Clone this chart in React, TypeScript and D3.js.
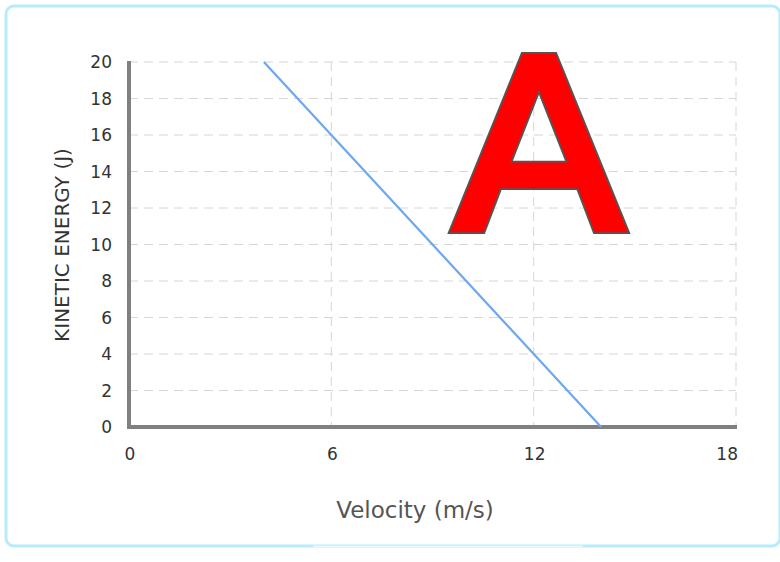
import * as d3 from 'd3';

const W = 780;
const H = 562;

// Data
const velocity = [4, 14];
const energy = [20, 0];
const xTicks = [0, 6, 12, 18];
const yTicks = [0, 2, 4, 6, 8, 10, 12, 14, 16, 18, 20];

const COLORS = {
  frame: '#b8ecfb',
  axis: '#808080',
  grid: '#d6d6d6',
  tick: '#333333',
  title: '#555555',
  line: '#6ea6f0',
  letter: '#ff0000',
  letterStroke: '#555555',
};

const FONT = 'DejaVu Sans, Verdana, sans-serif';

export default function App() {
  const x = d3.scaleLinear().domain([0, 18]).range([129, 736]);
  const y = d3.scaleLinear().domain([0, 20]).range([427, 62]);

  const pts = velocity.map((v, i) => [v, energy[i]] as [number, number]);
  const linePath = d3.line<[number, number]>()
    .x(d => x(d[0]))
    .y(d => y(d[1]))(pts) || '';

  const last = xTicks[xTicks.length - 1];
  const letterTransform = 'translate(539,228.5) scale(1.065,1)';

  return (
    <svg
      width={W}
      height={H}
      style={{ position: 'absolute', left: 0, top: 0, background: '#fff' }}
    >
      {/* frame */}
      <rect x={6} y={6} width={774} height={540} rx={8} fill="#fff" stroke={COLORS.frame} strokeWidth={3} />
      <line x1={313} x2={583} y1={546.5} y2={546.5} stroke="#e6f8fd" strokeWidth={2} />

      {/* horizontal grid */}
      {yTicks.filter(t => t > 0).map(t => (
        <line key={'gy' + t} x1={x(0)} x2={x(18)} y1={y(t)} y2={y(t)}
          stroke={COLORS.grid} strokeWidth={1} strokeDasharray="9,6" />
      ))}
      {/* vertical grid */}
      {xTicks.filter(t => t > 0).map(t => (
        <line key={'gx' + t} x1={x(t)} x2={x(t)} y1={y(20)} y2={y(0)}
          stroke={COLORS.grid} strokeWidth={1} strokeDasharray="9,6" />
      ))}

      {/* axes */}
      <line x1={x(0)} x2={x(0)} y1={y(20) - 1} y2={y(0) + 2} stroke={COLORS.axis} strokeWidth={4} />
      <line x1={x(0) - 2} x2={x(18) + 1} y1={y(0)} y2={y(0)} stroke={COLORS.axis} strokeWidth={4} />

      {/* tick labels */}
      {yTicks.map(t => (
        <text key={'ty' + t} x={112} y={y(t)} textAnchor="end" dominantBaseline="central"
          fontFamily={FONT} fontSize={17} fill={COLORS.tick}>{t}</text>
      ))}
      {xTicks.map(t => (
        <text key={'tx' + t} x={t === last ? x(t) + 2 : x(t) + 1} y={454}
          textAnchor={t === last ? 'end' : 'middle'} dominantBaseline="central"
          fontFamily={FONT} fontSize={17} fill={COLORS.tick}>{t}</text>
      ))}

      {/* data line */}
      <path d={linePath} fill="none" stroke={COLORS.line} strokeWidth={2.2} />

      {/* axis titles */}
      <text x={415} y={510} textAnchor="middle" dominantBaseline="central"
        fontFamily={FONT} fontSize={23} fill={COLORS.title}>Velocity (m/s)</text>
      <text transform="translate(62,245) rotate(-90)" textAnchor="middle" dominantBaseline="central"
        fontFamily={FONT} fontSize={20} fill={COLORS.tick}>KINETIC ENERGY (J)</text>

      {/* big letter: gray outline ring under a thickened red glyph */}
      <text transform={letterTransform} textAnchor="middle"
        fontFamily={FONT} fontSize={236} strokeLinejoin="miter"
        fill={COLORS.letterStroke} stroke={COLORS.letterStroke} strokeWidth={10}>A</text>
      <text transform={letterTransform} textAnchor="middle" aria-hidden="true"
        fontFamily={FONT} fontSize={236} strokeLinejoin="miter"
        fill={COLORS.letter} stroke={COLORS.letter} strokeWidth={6.5}>A</text>
    </svg>
  );
}
